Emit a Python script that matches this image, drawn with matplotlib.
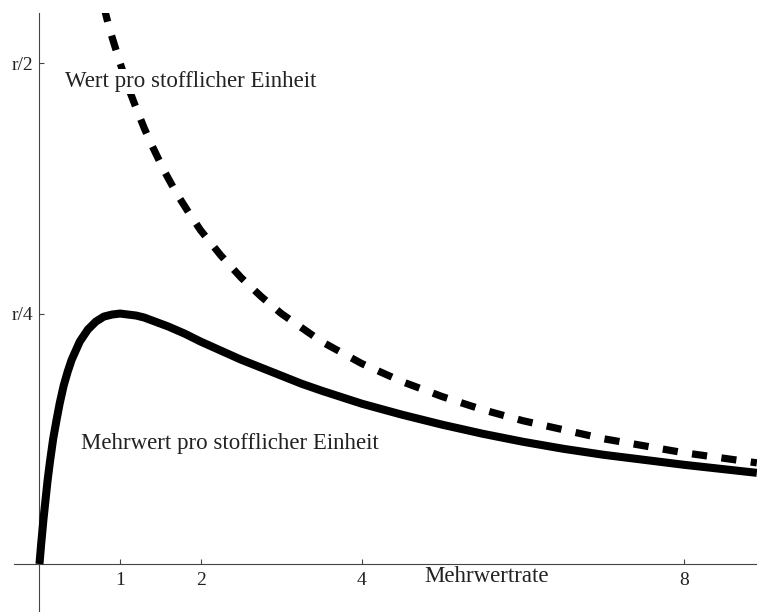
import numpy as np
import matplotlib.pyplot as plt

# Mehrwertrate (x) and values, in units of r
rate_solid = [0, 0.02, 0.05, 0.1, 0.13, 0.17, 0.21, 0.25, 0.3, 0.35, 0.4, 0.5, 0.6, 0.7, 0.8,
              0.9, 1.0, 1.1, 1.2, 1.3, 1.4, 1.6, 1.8, 2.0, 2.25, 2.5, 2.75, 3.0, 3.25, 3.5,
              4.0, 4.5, 5.0, 5.5, 6.0, 6.5, 7.0, 7.5, 8.0, 8.9]
mehrwert = [0, 0.019, 0.045, 0.083, 0.102, 0.125, 0.143, 0.160, 0.178, 0.192, 0.204, 0.222,
            0.234, 0.242, 0.247, 0.249, 0.250, 0.249, 0.248, 0.246, 0.243, 0.237, 0.230,
            0.222, 0.213, 0.204, 0.196, 0.188, 0.180, 0.173, 0.160, 0.149, 0.139, 0.130,
            0.122, 0.115, 0.109, 0.104, 0.099, 0.091]

rate_dashed = [0.8, 0.85, 0.9, 1.0, 1.1, 1.2, 1.3, 1.4, 1.55, 1.7, 1.85, 2.0, 2.25, 2.5, 2.75,
               3.0, 3.5, 4.0, 4.5, 5.0, 5.5, 6.0, 7.0, 8.0, 8.9]
wert = [0.556, 0.540, 0.526, 0.500, 0.476, 0.455, 0.435, 0.417, 0.392, 0.370, 0.351, 0.333,
        0.308, 0.286, 0.267, 0.250, 0.222, 0.200, 0.182, 0.167, 0.154, 0.143, 0.125, 0.111,
        0.101]

xticks = [1, 2, 4, 8]
yticks = [0.25, 0.5]
ytick_labels = ['r/4', 'r/2']

plt.rcParams['font.family'] = ['Liberation Serif', 'DejaVu Serif']

W, H = 757, 612
fig = plt.figure(figsize=(W / 100, H / 100), dpi=100)
ax = fig.add_axes([14 / W, 0, (W - 14) / W, (H - 13) / H])

ax.plot(rate_solid, mehrwert, color='black', lw=5.8, solid_capstyle='butt',
        solid_joinstyle='round', zorder=2)
ax.plot(rate_dashed, wert, color='black', lw=5.2, dashes=(2.1, 2.0),
        dash_capstyle='butt', zorder=2)

ax.set_xlim(-0.316, 8.902)
ax.set_ylim(-0.0479, 0.550)

# Mathematica-style axes through the origin
for side in ['top', 'right']:
    ax.spines[side].set_visible(False)
ax.spines['left'].set_position(('data', 0))
ax.spines['bottom'].set_position(('data', 0))
for side in ['left', 'bottom']:
    ax.spines[side].set_color('#444444')
    ax.spines[side].set_linewidth(0.8)
    ax.spines[side].set_zorder(1)

ax.set_xticks(xticks)
ax.set_xticklabels([str(t) for t in xticks])
ax.set_yticks(yticks)
ax.set_yticklabels(ytick_labels)
ax.tick_params(axis='x', direction='in', length=3.3, width=0.8, color='#444444',
               labelsize=14, labelcolor='#222222', pad=6)
ax.tick_params(axis='y', direction='in', length=3.3, width=0.8, color='#444444',
               labelsize=14, labelcolor='#222222', pad=4.5)
ax.patch.set_visible(False)

box = dict(facecolor='white', edgecolor='none', pad=1.5)
ax.text(0.316, 0.476, 'Wert pro stofflicher Einheit', fontsize=16.5, color='#222222',
        ha='left', va='baseline', bbox=box, zorder=5)
ax.text(0.52, 0.115, 'Mehrwert pro stofflicher Einheit', fontsize=16.5, color='#222222',
        ha='left', va='baseline', bbox=box, zorder=5)
ax.text(4.78, -0.0177, 'Mehrwertrate', fontsize=16.5, color='#222222',
        ha='left', va='baseline', zorder=5)

fig.savefig('out.png', dpi=100)
